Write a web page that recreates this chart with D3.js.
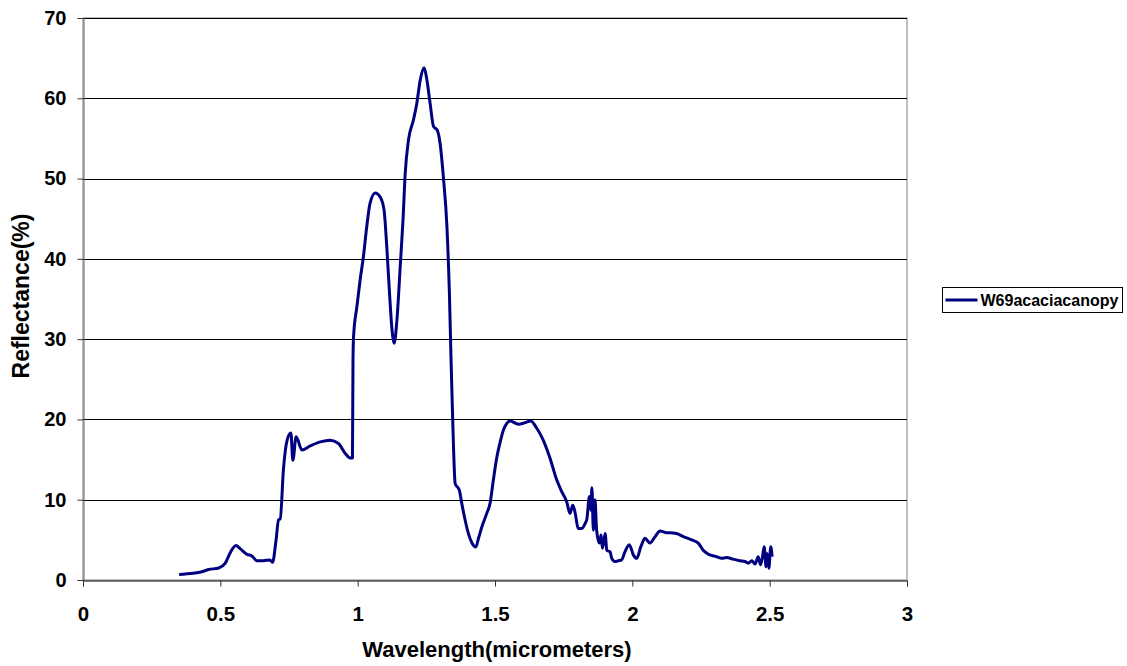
<!DOCTYPE html>
<html>
<head>
<meta charset="utf-8">
<script src="https://cdn.jsdelivr.net/npm/d3@7"></script>
<style>
  body { margin: 0; background: #fff; }
  svg { display: block; font-family: Arial, 'Liberation Sans', sans-serif; font-weight: bold; }
</style>
</head>
<body>
<div id="chart"></div>
<script>
const seriesName = 'W69acaciacanopy';
const xTicks = [0, 0.5, 1, 1.5, 2, 2.5, 3];
const yTicks = [0, 10, 20, 30, 40, 50, 60, 70];

// wavelength (micrometers)
const wavelength = [
  0.35, 0.4, 0.43, 0.457, 0.494, 0.518, 0.536, 0.557, 0.572, 0.597, 0.615, 0.633, 0.657, 0.68, 0.69, 0.703,
  0.712, 0.718, 0.73, 0.743, 0.757, 0.764, 0.776, 0.797, 0.827, 0.864, 0.9, 0.93, 0.954, 0.973, 0.981,
  0.983, 0.985, 0.997, 1.009, 1.021, 1.033, 1.045, 1.064, 1.082, 1.096, 1.106, 1.116, 1.124, 1.133, 1.143,
  1.155, 1.165, 1.173, 1.185, 1.203, 1.215, 1.228, 1.242, 1.252, 1.264, 1.276, 1.29, 1.3, 1.312, 1.325,
  1.334, 1.34, 1.346, 1.355, 1.37, 1.379, 1.391, 1.403, 1.416, 1.43, 1.44, 1.452, 1.47, 1.482, 1.494,
  1.507, 1.519, 1.531, 1.543, 1.555, 1.585, 1.61, 1.63, 1.652, 1.676, 1.7, 1.725, 1.743, 1.761, 1.773,
  1.783, 1.791, 1.803, 1.815, 1.829, 1.834, 1.844, 1.849, 1.853, 1.858, 1.864, 1.87, 1.88, 1.886, 1.891,
  1.901, 1.907, 1.919, 1.925, 1.937, 1.949, 1.961, 1.973, 1.989, 2.004, 2.016, 2.031, 2.046, 2.064, 2.083,
  2.101, 2.125, 2.137, 2.161, 2.186, 2.216, 2.24, 2.258, 2.277, 2.307, 2.325, 2.343, 2.367, 2.392, 2.41,
  2.422, 2.435, 2.447, 2.458, 2.467, 2.474, 2.48, 2.487, 2.491, 2.497, 2.504, 2.509
];

// reflectance (%)
const reflectance = [
  0.7, 0.85, 1.0, 1.3, 1.5, 2.1, 3.4, 4.3, 3.9, 3.2, 3.0, 2.4, 2.4, 2.5, 2.2, 5.0,
  7.5, 7.6, 13.9, 17.4, 18.3, 14.9, 17.85, 16.2, 16.7, 17.2, 17.4, 17.0, 15.8, 15.2, 15.2,
  27.4, 30.3, 34.0, 37.4, 40.3, 44.0, 46.9, 48.2, 47.7, 46.1, 41.5, 35.7, 31.6, 29.5, 32.4,
  39.1, 44.8, 50.6, 54.8, 57.3, 59.3, 62.3, 63.8, 62.3, 59.3, 56.5, 56.0, 54.4, 50.2, 44.0,
  35.7, 27.4, 20.0, 12.0, 11.2, 9.55, 7.5, 5.8, 4.6, 4.1, 5.2, 6.6, 8.3, 9.55, 12.45,
  15.35, 17.2, 18.7, 19.5, 19.8, 19.4, 19.6, 19.8, 18.9, 17.4, 15.2, 12.45, 11.0, 9.75, 8.3,
  9.3, 8.5, 6.4, 6.4, 7.1, 7.5, 10.4, 8.7, 11.5, 6.2, 10.0, 6.2, 4.6, 5.6, 3.95,
  5.8, 3.7, 3.5, 2.7, 2.3, 2.4, 2.5, 3.5, 4.4, 3.1, 2.7, 4.15, 5.2, 4.6, 5.4,
  6.1, 5.9, 5.9, 5.8, 5.4, 5.0, 4.6, 3.7, 3.2, 2.9, 2.7, 2.8, 2.6, 2.4, 2.3,
  2.1, 2.4, 2.0, 2.9, 1.9, 2.9, 4.15, 1.65, 3.3, 1.45, 4.15, 2.9
];

const width = 1127;
const height = 666;
const plot = { left: 83, right: 907, top: 18, bottom: 580 };
const lineColor = '#000080';

const svg = d3.select('#chart')
  .append('svg')
  .attr('width', width)
  .attr('height', height);

const x = d3.scaleLinear().domain([0, 3]).range([plot.left, plot.right]);
const y = d3.scaleLinear().domain([0, 70]).range([plot.bottom, plot.top]);

// plot area border
svg.append('rect')
  .attr('x', plot.left)
  .attr('y', plot.top)
  .attr('width', plot.right - plot.left)
  .attr('height', plot.bottom - plot.top)
  .attr('fill', 'none')
  .attr('stroke', '#808080')
  .attr('stroke-width', 1);

// horizontal gridlines
svg.selectAll('.grid')
  .data(yTicks.filter(d => d > 0))
  .enter()
  .append('line')
  .attr('class', 'grid')
  .attr('x1', plot.left)
  .attr('x2', plot.right)
  .attr('y1', d => Math.round(y(d)) + 0.5)
  .attr('y2', d => Math.round(y(d)) + 0.5)
  .attr('stroke', '#000')
  .attr('stroke-width', 1);

const yAxis = svg.append('g')
  .attr('transform', `translate(${plot.left + 0.5},0)`)
  .call(d3.axisLeft(y).tickValues(yTicks).tickSize(6).tickPadding(11).tickFormat(d3.format('d')));

const xAxis = svg.append('g')
  .attr('transform', `translate(0,${plot.bottom + 0.5})`)
  .call(d3.axisBottom(x).tickValues(xTicks).tickSize(6).tickPadding(20).tickFormat(d => String(d)));

[yAxis, xAxis].forEach(g => {
  g.selectAll('text')
    .attr('fill', '#000')
    .style('font-size', '20px')
    .style('font-family', 'Arial, "Liberation Sans", sans-serif')
    .style('font-weight', 'bold');
  g.selectAll('line').attr('stroke', '#333');
});
xAxis.selectAll('text').style('font-size', '20.5px');
yAxis.select('.domain').attr('stroke', '#666');
xAxis.select('.domain').attr('stroke', '#000');

// axis titles
svg.append('text')
  .attr('x', (plot.left + plot.right) / 2 + 2)
  .attr('y', 657)
  .attr('text-anchor', 'middle')
  .style('font-size', '22px')
  .text('Wavelength(micrometers)');

svg.append('text')
  .attr('transform', `translate(29,${(plot.top + plot.bottom) / 2 - 3}) rotate(-90)`)
  .attr('text-anchor', 'middle')
  .style('font-size', '23px')
  .text('Reflectance(%)');

// spectrum line
const points = wavelength.map((w, i) => ({ w, r: reflectance[i] }));

svg.append('path')
  .datum(points)
  .attr('fill', 'none')
  .attr('stroke', lineColor)
  .attr('stroke-width', 3)
  .attr('stroke-linejoin', 'round')
  .attr('d', d3.line().curve(d3.curveMonotoneX).x(d => x(d.w)).y(d => y(d.r)));

// legend
const legend = svg.append('g').attr('transform', 'translate(942.5,287.5)');
legend.append('rect')
  .attr('width', 180)
  .attr('height', 25)
  .attr('fill', '#fff')
  .attr('stroke', '#000');
legend.append('line')
  .attr('x1', 3)
  .attr('x2', 35)
  .attr('y1', 12.5)
  .attr('y2', 12.5)
  .attr('stroke', lineColor)
  .attr('stroke-width', 3);
legend.append('text')
  .attr('x', 38)
  .attr('y', 18)
  .style('font-size', '16px')
  .text(seriesName);
</script>
</body>
</html>
